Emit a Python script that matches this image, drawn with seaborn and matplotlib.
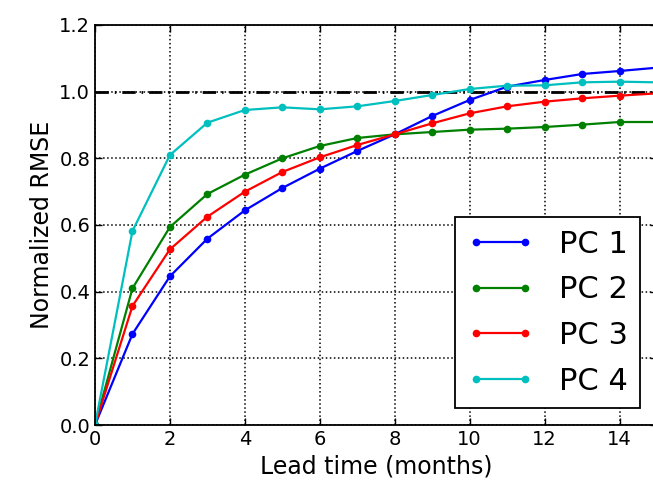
import pandas as pd
import numpy as np
import matplotlib
matplotlib.use("Agg")
import matplotlib.pyplot as plt
import seaborn as sns

# lead time (months) and normalized RMSE per principal component
lead = list(range(16))
pc1 = [0.0, 0.273, 0.446, 0.559, 0.644, 0.711, 0.769, 0.822, 0.872, 0.927, 0.975, 1.015, 1.035, 1.053, 1.062, 1.072]
pc2 = [0.0, 0.410, 0.594, 0.693, 0.751, 0.800, 0.837, 0.861, 0.872, 0.879, 0.886, 0.889, 0.894, 0.901, 0.909, 0.909]
pc3 = [0.0, 0.357, 0.527, 0.625, 0.700, 0.759, 0.803, 0.840, 0.872, 0.905, 0.935, 0.956, 0.970, 0.980, 0.988, 0.995]
pc4 = [0.0, 0.582, 0.810, 0.907, 0.945, 0.953, 0.947, 0.956, 0.972, 0.990, 1.008, 1.018, 1.019, 1.028, 1.030, 1.028]
names = ["PC 1", "PC 2", "PC 3", "PC 4"]
colors = ["#0000ff", "#008000", "#ff0000", "#00bfbf"]

df = pd.DataFrame({
    "lead": lead * 4,
    "rmse": pc1 + pc2 + pc3 + pc4,
    "pc": np.repeat(names, len(lead)),
})

sns.set_style("ticks")
plt.rcParams['font.family'] = ['DejaVu Sans']
plt.rcParams['text.color'] = 'k'
plt.rcParams['axes.labelcolor'] = 'k'
plt.rcParams['xtick.color'] = 'k'
plt.rcParams['ytick.color'] = 'k'

fig = plt.figure(figsize=(6.53, 4.90), dpi=100)
ax = fig.add_axes([95 / 653, 65 / 490, 562 / 653, 400 / 490])

sns.lineplot(data=df, x="lead", y="rmse", hue="pc", palette=colors,
             marker="o", markersize=5.5, markeredgewidth=0, linewidth=1.6,
             ax=ax, legend=True)

# reference level at 1.0
ax.axhline(1.0, color="k", linewidth=2.0, linestyle=(0, (4.8, 2.15, 0.55, 2.15)), zorder=1.5)

ax.set_xlim(0, 15)
ax.set_ylim(0, 1.2)
ax.set_xticks(range(0, 16, 2))
ax.set_yticks(np.arange(0, 1.21, 0.2))
ax.grid(True, color="k", linestyle=":", linewidth=1.1)
ax.tick_params(direction="in", top=True, right=True, length=5, width=1, labelsize=14)
for s in ax.spines.values():
    s.set_linewidth(1.3)
    s.set_color("k")

ax.set_xlabel("Lead time (months)", fontsize=17)
ax.set_ylabel("Normalized RMSE", fontsize=17)

handles, labels = ax.get_legend_handles_labels()
leg = ax.legend(handles, labels, loc="lower right", fontsize=22, numpoints=2,
                fancybox=False, framealpha=1, edgecolor="k", handlelength=2.2,
                borderaxespad=0.55, labelspacing=0.55)
leg.get_frame().set_linewidth(1.3)

fig.savefig("out.png", dpi=100)
